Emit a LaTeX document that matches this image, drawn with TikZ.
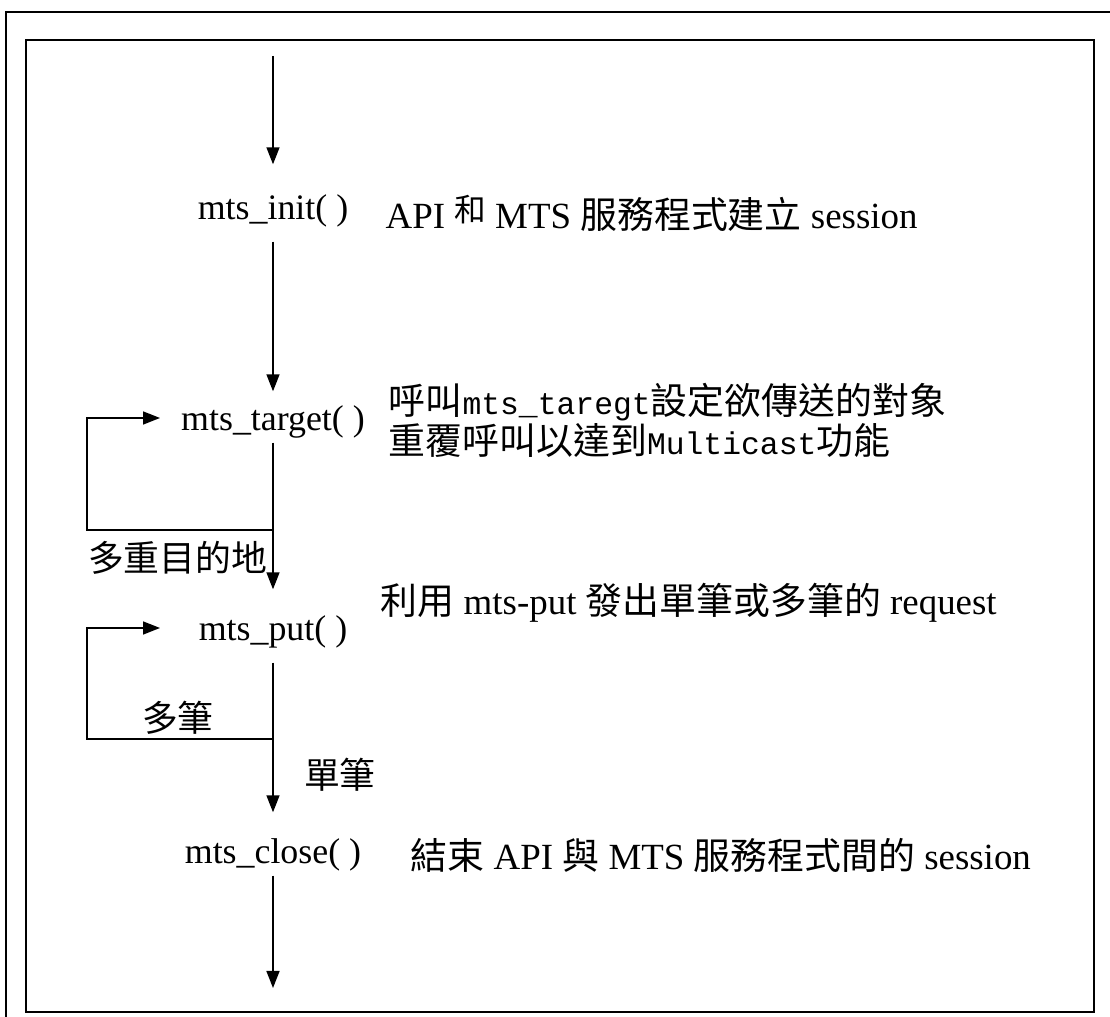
\documentclass[tikz,border=0pt]{standalone}
\usepackage{fontspec}
\setmainfont{Liberation Serif}
\newfontfamily\cjk{Noto Sans CJK TC}
\newfontfamily\mono[Scale=0.85]{Liberation Mono}
\usetikzlibrary{arrows.meta}

\begin{document}
\begin{tikzpicture}[x=1cm,y=-1cm,
  txt/.style={font=\fontsize{10.2}{11.4}\selectfont, inner sep=0pt},
  fn/.style={txt, minimum height=0.6cm},
  desc/.style={txt, font=\fontsize{10.5}{11.4}\selectfont, anchor=west, align=left},
  flow/.style={line width=0.45pt, -{Triangle[width=0.13cm,length=0.17cm]}}]
  \useasboundingbox (0,0) rectangle (11.10,10.17);
  % frames
  \draw[line width=0.65pt] (0.06,10.17) -- (0.06,0.12) -- (11.10,0.12);
  \draw[line width=0.5pt] (0.26,0.40) rectangle (10.94,10.12);

  % calls
  \node[fn] (init) at (2.73,2.11) {mts\_init( )};
  \node[fn] (target) at (2.73,4.22) {mts\_target( )};
  \node[fn] (put) at (2.73,6.32) {mts\_put( )};
  \node[fn] (close) at (2.73,8.55) {mts\_close( )};

  % what each call does
  \node[desc] (initdesc) at (3.85,2.13) {API \raisebox{2pt}{\cjk\small 和} MTS {\cjk 服務程式建立} session};
  \node[desc] (targetdesc) at (3.88,4.20) {{\cjk 呼叫}{\mono mts\_taregt}{\cjk 設定欲傳送的對象}\\
    {\cjk 重覆呼叫以達到}{\mono Multicast}{\cjk 功能}};
  \node[desc] (putdesc) at (3.80,6.03) {{\cjk 利用} mts-put {\cjk 發出單筆或多筆的} request};
  \node[desc] (closedesc) at (4.10,8.55) {{\cjk 結束} API {\cjk 與} MTS {\cjk 服務程式間的} session};

  % main flow
  \coordinate (start) at (2.73,0.56);
  \coordinate (finish) at (2.73,9.88);
  \draw[flow] (start) -- ([yshift=0.16cm]init.north);
  \draw[flow] (init.south) -- (target.north);
  \draw[flow] ([yshift=0.10cm]target.south) -- ([yshift=0.12cm]put.north);
  \draw[flow] (put.south) -- ([yshift=0.12cm]close.north);
  \draw[flow] ([yshift=0.10cm]close.south) -- (finish);

  % loop back to mts_target
  \coordinate (split1) at (2.73,5.30);
  \coordinate (back1) at (0.87,5.30);
  \coordinate (entry1) at (1.60,4.18);
  \draw[flow] (split1) -- (back1) |- (entry1);
  \node[txt, anchor=east] (multi) at (2.68,5.58) {\cjk 多重目的地};

  % loop back to mts_put
  \coordinate (split2) at (2.73,7.39);
  \coordinate (back2) at (0.87,7.39);
  \coordinate (entry2) at (1.60,6.28);
  \draw[flow] (split2) -- (back2) |- (entry2);
  \node[txt] (many) at (1.78,7.18) {\cjk 多筆};
  \node[txt] (single) at (3.40,7.75) {\cjk 單筆};
\end{tikzpicture}
\end{document}
